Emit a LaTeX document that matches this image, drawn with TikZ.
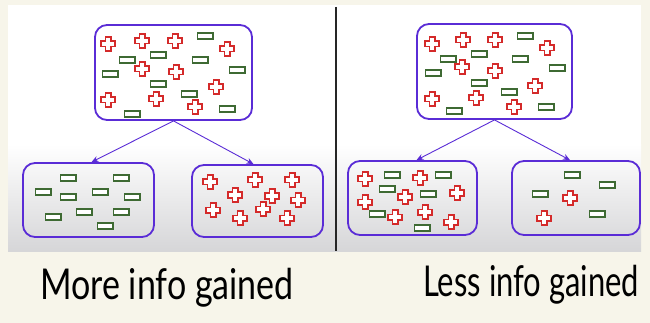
\documentclass[tikz,border=0pt]{standalone}
\usepackage{fontspec}
\setmainfont{Lato}
\usetikzlibrary{arrows.meta}
\definecolor{cream}{HTML}{F7F5EA}
\definecolor{boxpurple}{HTML}{5A2CD6}
\definecolor{plusred}{HTML}{D42A2A}
\definecolor{minusgreen}{HTML}{3E6A33}
\definecolor{panelgray}{HTML}{D6D6D8}
\tikzset{
  grp/.style={draw=boxpurple, line width=1.8pt, rounded corners=12pt, inner sep=0pt},
  link/.style={draw=boxpurple, line width=0.9pt, -{Stealth[length=7pt,width=6pt]}},
  pplus/.pic={\draw[plusred, line width=1.8pt, fill=white, line join=miter]
     (-2.6,-6.8)--(2.6,-6.8)--(2.6,-2.6)--(6.8,-2.6)--(6.8,2.6)--(2.6,2.6)--(2.6,6.8)--(-2.6,6.8)--(-2.6,2.6)--(-6.8,2.6)--(-6.8,-2.6)--(-2.6,-2.6)--cycle;},
  mminus/.pic={\draw[minusgreen, line width=1.8pt, fill=white] (-7.6,-3.1) rectangle (7.6,3.1);},
  hand/.style={font=\fontsize{34}{34}\selectfont, text=black, inner sep=0pt}
}
\begin{document}
\begin{tikzpicture}[x=1pt,y=-1pt]
\useasboundingbox (0,0) rectangle (650,323);
\fill[cream] (0,0) rectangle (650,323);
\fill[white] (8,5) rectangle (641,145);
\shade[top color=white, bottom color=panelgray] (8,144.5) rectangle (641,251);
\draw[black!85, line width=1.1pt] (336,7) -- (336,251);

% boxes
\node[grp, minimum width=157pt, minimum height=95pt] (t1) at (173.5,72.5) {};
\node[grp, minimum width=131pt, minimum height=74pt] (b1) at (88.5,200) {};
\node[grp, minimum width=131pt, minimum height=72pt] (b2) at (257.5,201) {};
\node[grp, minimum width=155pt, minimum height=95pt] (t2) at (494.5,71.5) {};
\node[grp, minimum width=129pt, minimum height=74pt] (b3) at (412.5,198) {};
\node[grp, minimum width=128pt, minimum height=74pt] (b4) at (576,198) {};

\draw[link] (t1.south) -- ([xshift=3pt]b1.north);
\draw[link] (t1.south) -- ([xshift=-4pt]b2.north);
\draw[link] (t2.south) -- ([xshift=4pt]b3.north);
\draw[link] (t2.south) -- ([xshift=-6pt]b4.north);

% top left
\foreach \p in {(108,44),(142,41),(175,41),(227,49),(142,69),(176,72),(216,87),(108,100),(156,99),(195,107)}
  \pic at \p {pplus};
\foreach \p in {(205,36),(127,60),(158,55),(200,60),(110,74),(237,70),(158,84),(189,94),(132,114),(227,109)}
  \pic at \p {mminus};
% bottom left 1
\foreach \p in {(68,178),(121,178),(43,192),(68,197),(100,192),(132,197),(53,217),(84,212),(121,212),(105,226)}
  \pic at \p {mminus};
% bottom left 2
\foreach \p in {(210,182),(255,180),(292,180),(235,195),(272,196),(298,200),(213,210),(263,209),(240,218),(287,218)}
  \pic at \p {pplus};
% top right
\foreach \p in {(432,44),(463,40),(495,40),(547,48),(462,67),(495,71),(535,86),(432,99),(476,98),(514,107)}
  \pic at \p {pplus};
\foreach \p in {(525,36),(448,59),(479,54),(520,59),(433,73),(557,68),(479,83),(509,92),(454,111),(546,107)}
  \pic at \p {mminus};
% bottom right 1
\foreach \p in {(365,179),(420,178),(457,193),(365,202),(405,197),(395,217),(425,212),(451,222)}
  \pic at \p {pplus};
\foreach \p in {(392,175),(443,175),(387,189),(428,194),(377,214),(422,228)}
  \pic at \p {mminus};
% bottom right 2
\foreach \p in {(572,175),(607,185),(540,194),(597,214)}
  \pic at \p {mminus};
\foreach \p in {(570,198),(544,218)}
  \pic at \p {pplus};

\node[hand, anchor=base west] (l1) at (40,299) {\scalebox{1}[1.25]{More info gained}};
\node[hand, anchor=base west] (l2) at (423,296) {\scalebox{0.91}[1.25]{Less info gained}};
\end{tikzpicture}
\end{document}
